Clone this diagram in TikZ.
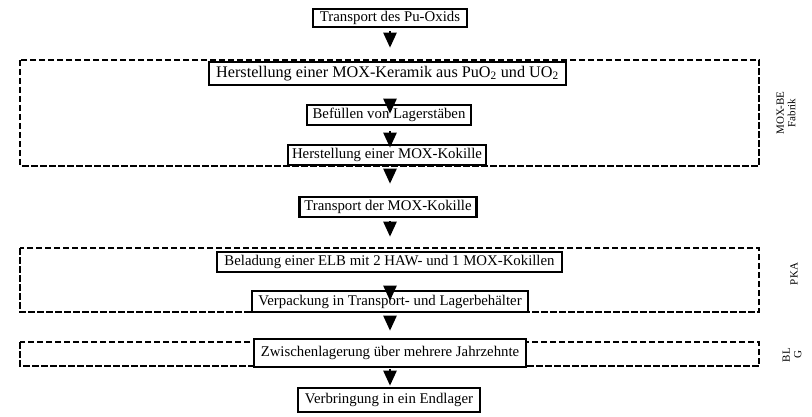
\documentclass[tikz,border=0pt]{standalone}
\usepackage{fontspec}
\setmainfont{Liberation Serif}
\usetikzlibrary{arrows.meta}
\tikzset{
  x=1pt, y=-1pt,
  stepbox/.style={draw, line width=2.6pt, fill=white, inner sep=0pt, align=center,
    font=\fontsize{14.8}{16}\selectfont},
  bigbox/.style={stepbox, font=\fontsize{16.2}{18}\selectfont},
  zone/.style={draw, line width=2pt, dash pattern=on 6.5pt off 2.5pt},
  flow/.style={line width=2.4pt, -{Triangle[length=15pt,width=13pt]}},
  side/.style={rotate=90, align=center, font=\fontsize{11}{11.5}\selectfont, inner sep=0pt}
}
\begin{document}
\begin{tikzpicture}
\useasboundingbox (0,0) rectangle (812,417);
\fill[white] (0,0) rectangle (812,417);
% zones
\draw[zone] (20,60) rectangle (759,166);
\draw[zone] (20,248) rectangle (759,312);
\draw[zone] (20,342) rectangle (759,366);
% side labels
\node[side] (lmox) at (786,113) {MOX-BE\\Fabrik};
\node[side] (lpka) at (794,274) {PKA};
\node[side] (lblg) at (792,355) {BL\\G};
% steps
\node[stepbox, minimum width=154pt, minimum height=18pt] (s1) at (390,18) {Transport des Pu-Oxids};
\node[bigbox, minimum width=357pt, minimum height=23pt] (s2) at (387.5,73.5) {Herstellung einer MOX-Keramik aus PuO\textsubscript{2} und UO\textsubscript{2}};
\node[stepbox, minimum width=164pt, minimum height=20pt] (s3) at (389,115) {Befüllen von Lagerstäben};
\node[stepbox, minimum width=198pt, minimum height=20pt] (s4) at (387,155) {Herstellung einer MOX-Kokille};
\node[stepbox, minimum width=177pt, minimum height=20pt] (s5) at (388,207) {Transport der MOX-Kokille};
\node[stepbox, minimum width=345pt, minimum height=20pt] (s6) at (389.5,262) {Beladung einer ELB mit 2 HAW- und 1 MOX-Kokillen};
\node[stepbox, minimum width=276pt, minimum height=21pt] (s7) at (390,301.5) {Verpackung in Transport- und Lagerbehälter};
\node[stepbox, minimum width=272pt, minimum height=28pt] (s8) at (390,353) {Zwischenlagerung über mehrere Jahrzehnte};
\node[stepbox, minimum width=182pt, minimum height=24pt] (s9) at (389,400) {Verbringung in ein Endlager};
% arrows
\draw[flow, shorten <=3pt, shorten >=13pt] (s1.south -| 390,0) -- (s2.north -| 390,0);
\draw[flow, shorten <=13pt, shorten >=-10pt] (s2.south -| 390,0) -- (s3.north -| 390,0);
\draw[flow, shorten <=5pt, shorten >=-4pt] (s3.south -| 390,0) -- (s4.north -| 390,0);
\draw[flow, shorten <=3pt, shorten >=12pt] (s4.south -| 390,0) -- (s5.north -| 390,0);
\draw[flow, shorten <=3pt, shorten >=14pt] (s5.south -| 390,0) -- (s6.north -| 390,0);
\draw[flow, shorten <=15pt, shorten >=-11pt] (s6.south -| 390,0) -- (s7.north -| 390,0);
\draw[flow, shorten <=3pt, shorten >=7pt] (s7.south -| 390,0) -- (s8.north -| 390,0);
\draw[flow, shorten <=1pt, shorten >=1pt] (s8.south -| 390,0) -- (s9.north -| 390,0);
\end{tikzpicture}
\end{document}
